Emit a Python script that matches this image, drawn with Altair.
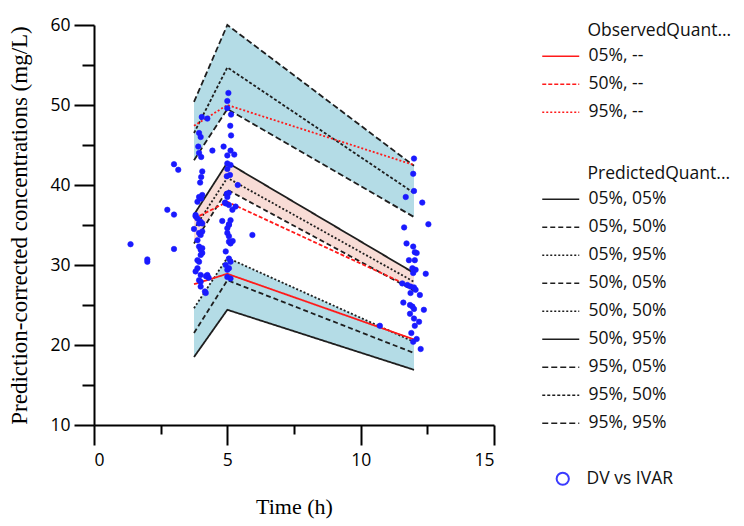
import altair as alt
import pandas as pd

# ---------------- data ----------------
times = [3.75, 5.0, 12.0]

pred_labels = ["05%, 05%", "05%, 50%", "05%, 95%", "50%, 05%", "50%, 50%",
               "50%, 95%", "95%, 05%", "95%, 50%", "95%, 95%"]
pred_05_05 = [18.5, 24.4, 16.9]
pred_05_50 = [21.5, 28.1, 19.0]
pred_05_95 = [24.6, 30.9, 20.4]
pred_50_05 = [32.7, 39.4, 26.8]
pred_50_50 = [34.5, 40.9, 27.9]
pred_50_95 = [36.3, 42.8, 29.0]
pred_95_05 = [43.1, 49.5, 36.0]
pred_95_50 = [46.5, 54.7, 39.0]
pred_95_95 = [50.4, 60.0, 42.4]

obs_labels = ["05%, --", "50%, --", "95%, --"]
obs_05 = [27.6, 28.9, 20.7]
obs_50 = [35.8, 37.9, 27.1]
obs_95 = [47.4, 50.0, 42.5]

dv_time = [1.37, 2.0, 2.0, 2.75, 3.0, 3.0, 3.0, 3.16,
           4.04, 4.25, 3.94, 4.0, 3.91, 3.94, 4.02, 4.44, 4.06, 4.02, 3.98, 4.06,
           3.94, 4.02, 3.88, 3.81, 3.81, 3.88, 4.0, 3.94, 4.06, 3.75, 3.94, 4.0,
           4.06, 3.88, 3.94, 4.0, 4.06, 4.0, 4.06, 3.88, 3.94, 3.88, 3.81, 4.0,
           3.94, 4.25, 4.2, 4.3, 4.0, 4.0, 4.16, 4.19,
           5.04, 5.0, 5.0, 5.14, 5.11, 5.14, 4.86, 5.0, 5.26, 5.12, 5.0, 5.12,
           5.0, 4.98, 5.1, 5.39, 4.98, 5.05, 5.0, 4.94, 5.06, 5.31, 4.91, 5.19,
           4.81, 5.12, 5.06, 5.06, 5.0, 5.94, 5.0, 5.06, 5.06, 5.2, 5.12, 4.94,
           5.06, 5.12, 4.94, 5.06, 5.0, 5.0, 5.12,
           12.0, 11.97, 12.0, 11.69, 12.31, 12.54, 11.63, 11.72, 11.97, 12.03,
           12.1, 11.81, 12.03, 11.94, 12.06, 12.44, 11.97, 11.56, 11.75, 11.87,
           12.0, 12.06, 11.87, 12.22, 11.6, 11.85, 11.94, 12.0, 12.37, 11.85,
           12.0, 12.19, 12.03, 11.9, 12.1, 11.97, 12.25, 10.72]
dv_conc = [32.6, 30.7, 30.4, 36.9, 36.3, 32.0, 42.6, 41.9,
           48.5, 48.3, 46.5, 46.0, 44.8, 44.0, 43.5, 44.3, 41.7, 41.0, 40.3, 38.75,
           38.5, 38.3, 37.9, 36.25, 36.1, 35.8, 35.4, 35.2, 35.2, 34.5, 34.0, 33.75,
           34.2, 33.1, 32.3, 31.9, 32.1, 31.25, 31.5, 30.6, 30.4, 29.6, 29.2, 28.75,
           28.1, 28.75, 28.6, 28.4, 27.9, 27.3, 26.7, 26.5,
           51.5, 50.5, 49.6, 48.8, 47.4, 46.2, 44.8, 43.7, 43.8, 44.3, 42.7, 42.5,
           42.0, 41.1, 41.25, 40.0, 38.9, 39.0, 38.5, 37.7, 37.5, 37.3, 37.8, 36.9,
           35.5, 35.6, 35.1, 35.0, 34.6, 33.75, 34.0, 33.6, 32.9, 33.0, 32.7, 31.7,
           30.8, 30.4, 30.0, 29.6, 29.4, 28.5, 28.3,
           43.3, 41.4, 39.25, 38.5, 37.8, 35.1, 34.7, 32.7, 32.3, 31.6,
           31.5, 30.6, 30.6, 29.6, 29.4, 28.9, 29.0, 27.7, 27.5, 27.3,
           27.2, 26.9, 26.5, 26.25, 25.3, 25.0, 24.8, 24.5, 24.4, 23.9,
           23.3, 22.9, 22.4, 21.5, 20.75, 20.4, 19.5, 22.4]

x_major = [0, 5, 10, 15]
x_minor = [2.5, 7.5, 12.5]
y_major = [10, 20, 30, 40, 50, 60]
y_minor = [15, 25, 35, 45, 55]

# ---------------- tables ----------------
pred_series = [pred_05_05, pred_05_50, pred_05_95, pred_50_05, pred_50_50,
               pred_50_95, pred_95_05, pred_95_50, pred_95_95]
pred_rows = []
for lab, vals in zip(pred_labels, pred_series):
    for t, v in zip(times, vals):
        pred_rows.append({"time": t, "conc": v, "pred": lab})
pred_df = pd.DataFrame(pred_rows)

obs_rows = []
for lab, vals in zip(obs_labels, [obs_05, obs_50, obs_95]):
    for t, v in zip(times, vals):
        obs_rows.append({"time": t, "conc": v, "obs": lab})
obs_df = pd.DataFrame(obs_rows)

band_rows = []
for name, lo, hi in [("low", pred_05_05, pred_05_95),
                     ("mid", pred_50_05, pred_50_95),
                     ("high", pred_95_05, pred_95_95)]:
    for t, a, b in zip(times, lo, hi):
        band_rows.append({"time": t, "lo": a, "hi": b, "band": name})
band_df = pd.DataFrame(band_rows)

dv_df = pd.DataFrame({"time": dv_time, "conc": dv_conc, "kind": "DV vs IVAR"})

xs = alt.Scale(domain=[0, 15], nice=False, zero=False)
ys = alt.Scale(domain=[10, 60], nice=False, zero=False)

lab_font = "Open Sans"
lab_size = 17.5
indent = "\u200b" + "\u00a0" * 10

line_legend = dict(orient="none", symbolType="M-3.7,0L3.7,0", symbolSize=100,
                   symbolOffset=10, labelOffset=19, symbolStrokeWidth=1.5,
                   titleLimit=400, rowPadding=9, titlePadding=8)

# ---------------- layers ----------------
bands = alt.Chart(band_df).mark_area(opacity=1, line=False).encode(
    x=alt.X("time:Q", scale=xs, axis=None),
    y=alt.Y("lo:Q", scale=ys, axis=None),
    y2="hi:Q",
    fill=alt.Fill("band:N", scale=alt.Scale(domain=["low", "mid", "high"],
                                            range=["#b4dce6", "#f8dcd6", "#b4dce6"]),
                  legend=None),
    detail="band:N",
)

pred_lines = alt.Chart(pred_df).mark_line(color="#1e1e1e", strokeWidth=1.8).encode(
    x=alt.X("time:Q", scale=xs, axis=None),
    y=alt.Y("conc:Q", scale=ys, axis=None),
    strokeDash=alt.StrokeDash(
        "pred:N",
        scale=alt.Scale(domain=pred_labels,
                        range=[[1, 0], [5, 3], [2, 2], [5, 3], [2, 2],
                               [1, 0], [6, 3], [3, 2], [6, 3]]),
        legend=alt.Legend(title=indent + "PredictedQuant...", legendX=448, legendY=140,
                          **line_legend),
    ),
)

obs_lines = alt.Chart(obs_df).mark_line(color="#ff1a1a", strokeWidth=1.8).encode(
    x=alt.X("time:Q", scale=xs, axis=None),
    y=alt.Y("conc:Q", scale=ys, axis=None),
    strokeDash=alt.StrokeDash(
        "obs:N",
        scale=alt.Scale(domain=obs_labels, range=[[1, 0], [4, 2], [2, 2]]),
        legend=alt.Legend(title=indent + "ObservedQuant...", legendX=448, legendY=-3,
                          **line_legend),
    ),
)

points = alt.Chart(dv_df).mark_circle(size=30, opacity=1, color="#1a1aff").encode(
    x=alt.X("time:Q", scale=xs,
            axis=alt.Axis(values=x_major, tickSize=20, labelPadding=6,
                          title="Time (h)", titlePadding=28, orient="bottom",
                          titleFontSize=22, grid=False)),
    y=alt.Y("conc:Q", scale=ys,
            axis=alt.Axis(values=y_major, tickSize=20, labelPadding=4,
                          title="Prediction-corrected concentrations (mg/L)",
                          titlePadding=18, orient="left", titleFontSize=23,
                          grid=False)),
)

rings = alt.Chart(dv_df).mark_point(filled=False, size=30, opacity=1,
                                    color="#1a1aff", strokeWidth=0.6).encode(
    x=alt.X("time:Q", scale=xs, axis=None),
    y=alt.Y("conc:Q", scale=ys, axis=None),
    shape=alt.Shape("kind:N", scale=alt.Scale(domain=["DV vs IVAR"], range=["circle"]),
                    legend=alt.Legend(title=None, orient="none", legendX=460, legendY=445,
                                      symbolSize=150, symbolStrokeWidth=2,
                                      symbolStrokeColor="#3b3bff",
                                      symbolOffset=0, labelOffset=15)),
)

minor = alt.Chart(dv_df).mark_circle(opacity=0).encode(
    x=alt.X("time:Q", scale=xs,
            axis=alt.Axis(values=x_minor, tickSize=9, labels=False, domain=False,
                          title=None, orient="bottom", grid=False)),
    y=alt.Y("conc:Q", scale=ys,
            axis=alt.Axis(values=y_minor, tickSize=12, labels=False, domain=False,
                          title=None, orient="left", grid=False)),
)

chart = alt.layer(bands, pred_lines, obs_lines, points, rings, minor).resolve_scale(
    strokeDash="independent"
).resolve_legend(
    strokeDash="independent"
).resolve_axis(
    x="independent", y="independent"
).properties(
    width=400, height=400,
    padding={"left": 0, "top": 8, "right": 0, "bottom": 5},
).configure_view(
    stroke=None
).configure_axis(
    domainColor="black", domainWidth=2, tickColor="black", tickWidth=2,
    labelColor="black", labelFont=lab_font, labelFontSize=17.5,
    titleFont="Liberation Serif", titleFontWeight="normal",
    titleColor="black",
).configure_legend(
    labelFont=lab_font, labelFontSize=lab_size, labelColor="#111111",
    titleFont=lab_font, titleFontSize=lab_size, titleFontWeight="normal",
    titleColor="#111111", labelLimit=300,
)

chart.save("out.html", embed_options={"renderer": "svg", "actions": False})
